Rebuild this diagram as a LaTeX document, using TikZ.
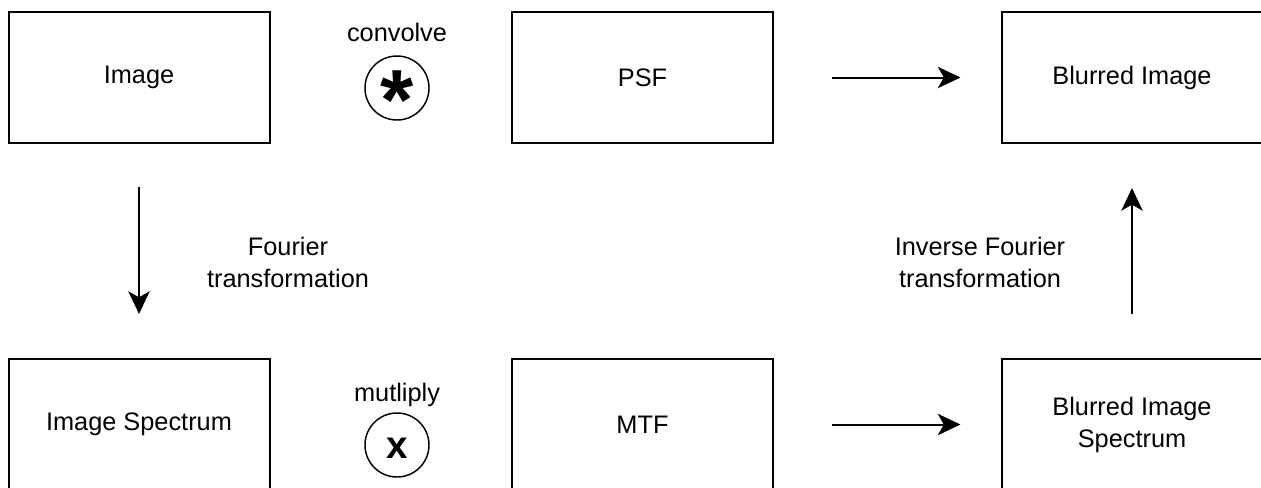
\documentclass[tikz,border=0pt]{standalone}
\usepackage{fontspec}
\setmainfont{Liberation Sans}
\usetikzlibrary{arrows.meta}
\tikzset{
  box/.style={draw=black, line width=1.5pt, minimum width=195.75pt, minimum height=98.25pt, inner sep=0pt, align=center, font=\fontsize{19}{24}\selectfont},
  lbl/.style={inner sep=0pt, align=center, font=\fontsize{19}{24}\selectfont},
  opcircle/.style={draw=black, line width=1.1pt, circle, minimum size=48pt, inner sep=0pt},
  arr/.style={line width=1.5pt, -{Stealth[length=17pt,width=16pt,inset=4.5pt]}},
}
\begin{document}
\begin{tikzpicture}[x=0.75pt,y=-0.75pt]
\useasboundingbox (0,0) rectangle (1261,487);
\clip (0,0) rectangle (1261,487);
\node[box] (img) at (139,77.5) {Image};
\node[box] (psf) at (642.5,77.5) {PSF};
\node[box] (blur) at (1132,77.5) {Blurred Image};
\node[box] (spec) at (139,424.5) {Image Spectrum};
\node[box] (mtf) at (642.5,424.5) {MTF};
\node[box] (bspec) at (1132,424.5) {Blurred Image\\Spectrum};
\node[opcircle] (conv) at (397,88) {};
\node[opcircle] (mult) at (397,445) {};
\node[inner sep=0pt, anchor=base, font=\fontsize{64}{64}\selectfont\bfseries] (ast) at (397,129) {*};
\node[inner sep=0pt, anchor=base, font=\fontsize{29}{29}\selectfont\bfseries] (xx) at (397,458) {x};
\node[lbl, anchor=base] (convl) at (397,41) {convolve};
\node[lbl, anchor=base] (multl) at (397,401) {mutliply};
\node[lbl] (ft) at (288,262) {Fourier\\transformation};
\node[lbl] (ift) at (980,262) {Inverse Fourier\\transformation};
\draw[arr, shorten <=43.5pt, shorten >=30pt] (psf) -- (blur);
\draw[arr, shorten <=43.5pt, shorten >=30pt] (mtf) -- (bspec);
\draw[arr, shorten <=32pt, shorten >=33pt] (img) -- (spec);
\draw[arr, shorten <=33pt, shorten >=33pt] (bspec) -- (blur);
\end{tikzpicture}
\end{document}
